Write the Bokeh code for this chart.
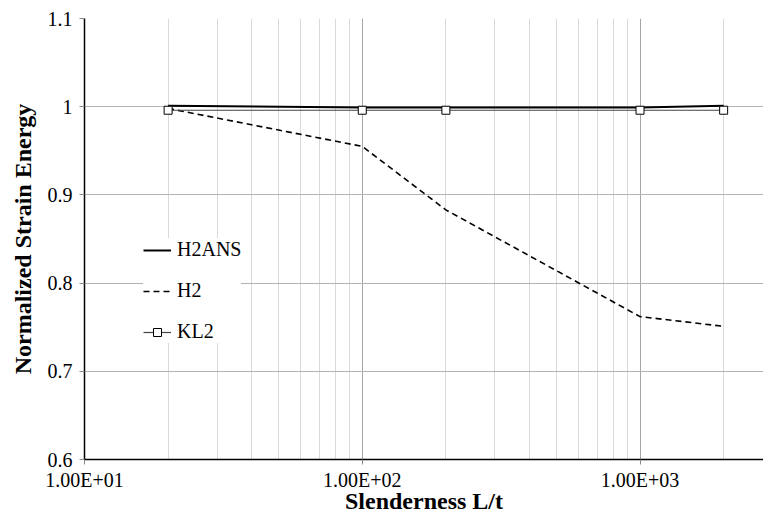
from bokeh.plotting import figure
from bokeh.models import FixedTicker, Legend, LegendItem, Range1d
from bokeh.embed import file_html
from bokeh.resources import INLINE

# ---- data ----
slenderness = [20, 100, 200, 1000, 2000]
h2ans = [1.001, 0.999, 0.999, 0.999, 1.001]
h2 = [0.998, 0.955, 0.883, 0.762, 0.751]
kl2 = [0.996, 0.996, 0.996, 0.996, 0.996]

x_major = [10, 100, 1000]
x_minor = [20, 30, 40, 50, 60, 70, 80, 90,
           200, 300, 400, 500, 600, 700, 800, 900, 2000]
x_tick_labels = ["1.00E+01", "1.00E+02", "1.00E+03"]
y_ticks = [0.6, 0.7, 0.8, 0.9, 1.0, 1.1]
y_tick_labels = ["0.6", "0.7", "0.8", "0.9", "1", "1.1"]

FONT = "Liberation Serif"

p = figure(width=763, height=516, x_axis_type="log",
           x_range=Range1d(10, 2783), y_range=Range1d(0.6, 1.1),
           output_backend="svg", toolbar_location=None,
           min_border_left=84, min_border_right=0,
           min_border_top=18, min_border_bottom=56)
p.outline_line_color = None
p.background_fill_color = "white"

# axes
p.xaxis.ticker = FixedTicker(ticks=x_major, minor_ticks=x_minor)
p.xaxis.major_label_overrides = {t: l for t, l in zip(x_major, x_tick_labels)}
p.yaxis.ticker = FixedTicker(ticks=y_ticks)
p.yaxis.major_label_overrides = {t: l for t, l in zip(y_ticks, y_tick_labels)}
for ax in (p.xaxis[0], p.yaxis[0]):
    ax.axis_line_color = "black"
    ax.axis_line_width = 1.5
    ax.major_tick_line_color = "#888888"
    ax.major_tick_in = 0
    ax.major_tick_out = 5
    ax.minor_tick_line_color = None
    ax.major_label_text_font = FONT
    ax.major_label_text_font_size = "20px"
    ax.major_label_text_color = "black"
    ax.axis_label_text_font = FONT
    ax.axis_label_text_font_size = "24px"
    ax.axis_label_text_font_style = "bold"
    ax.axis_label_text_color = "black"
p.xaxis.axis_label = "Slenderness L/t"
p.yaxis.axis_label = "Normalized Strain Energy"
p.xaxis.major_label_standoff = 4
p.xaxis.axis_label_standoff = -6
p.yaxis.major_label_standoff = 7
p.yaxis.axis_label_standoff = 9

# grids
p.xgrid.ticker = FixedTicker(ticks=x_major, minor_ticks=x_minor)
p.xgrid.grid_line_color = "#a6a6a6"
p.xgrid.grid_line_width = 1
p.xgrid.minor_grid_line_color = "#d9d9d9"
p.xgrid.minor_grid_line_width = 1
p.ygrid.ticker = FixedTicker(ticks=y_ticks)
p.ygrid.grid_line_color = "#b3b3b3"
p.ygrid.grid_line_width = 1

# series
r1 = p.line(slenderness, h2ans, line_color="black", line_width=2)
r2 = p.line(slenderness, h2, line_color="black", line_width=1.6,
            line_dash="6 4")
r3 = p.line(slenderness, kl2, line_color="#444444", line_width=1.2)
r3m = p.scatter(slenderness, kl2, marker="square", size=8,
                fill_color="white", line_color="black", line_width=1)

legend = Legend(items=[LegendItem(label="H2ANS", renderers=[r1]),
                       LegendItem(label="H2", renderers=[r2]),
                       LegendItem(label="KL2", renderers=[r3, r3m])],
                location=(59, 116), orientation="vertical")
legend.background_fill_color = "white"
legend.background_fill_alpha = 1
legend.border_line_color = None
legend.label_text_font = FONT
legend.label_text_font_size = "20px"
legend.label_text_color = "black"
legend.glyph_width = 28
legend.glyph_height = 20
legend.label_height = 20
legend.label_standoff = 6
legend.spacing = 18
legend.padding = 10
legend.margin = 0
p.add_layout(legend)

open("out.html", "w").write(file_html(p, INLINE))
